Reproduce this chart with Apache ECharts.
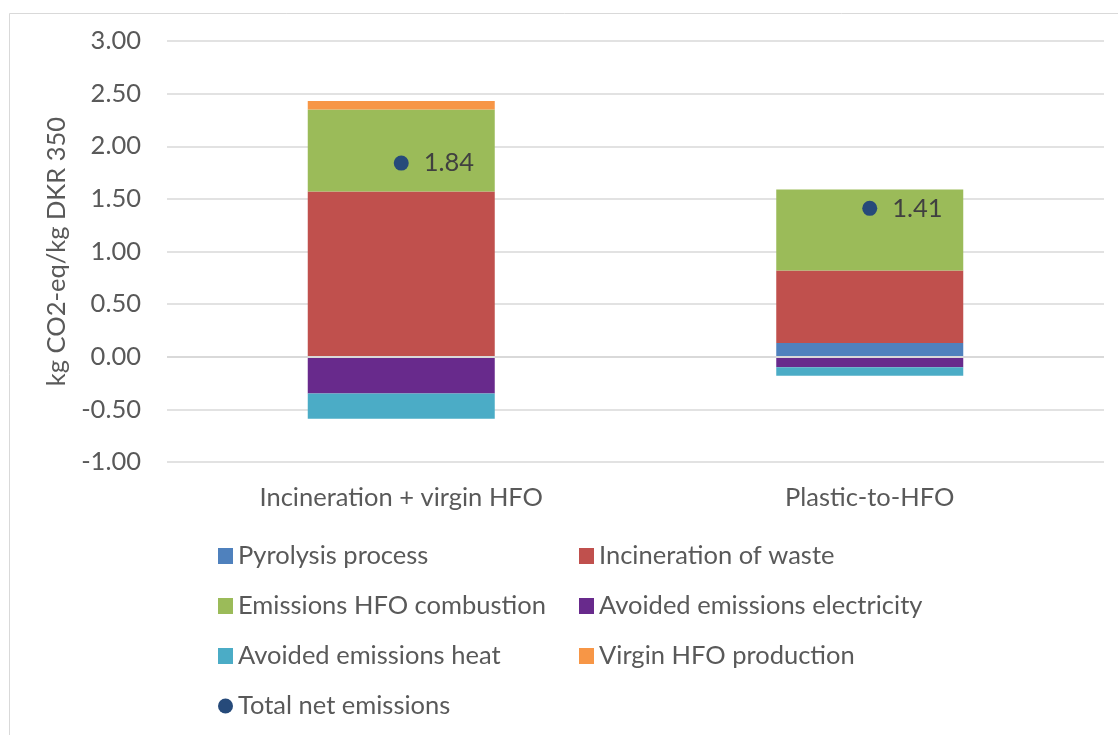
<!DOCTYPE html>
<html>
<head>
<meta charset="utf-8">
<script src="https://cdn.jsdelivr.net/npm/echarts@6/dist/echarts.min.js"></script>
<style>
  html, body { margin: 0; padding: 0; background: #ffffff; }
  #chart { width: 1118px; height: 735px; }
</style>
</head>
<body>
<div id="chart"></div>
<script>
// Scenarios compared
const categories = ['Incineration + virgin HFO', 'Plastic-to-HFO'];

// Contributions per scenario (kg CO2-eq/kg DKR 350)
const pyrolysisProcess = [0, 0.13];
const incinerationOfWaste = [1.57, 0.69];
const emissionsHfoCombustion = [0.78, 0.77];
const avoidedElectricity = [-0.35, -0.10];
const avoidedHeat = [-0.24, -0.08];
const virginHfoProduction = [0.08, 0];
const totalNetEmissions = [1.84, 1.41];

// Value axis ticks
const yMin = -1;
const yMax = 3;
const yStep = 0.5;

const FONT = 'Lato';
const FONT_SIZE = 25.5;
const TEXT_GREY = '#595959';

function barSeries(name, data, color) {
  return {
    name: name,
    type: 'bar',
    stack: 'total',
    data: data,
    barWidth: 187,
    itemStyle: { color: color },
    emphasis: { disabled: true }
  };
}

const series = [
  barSeries('Pyrolysis process', pyrolysisProcess, '#4f81bd'),
  barSeries('Incineration of waste', incinerationOfWaste, '#c0504d'),
  barSeries('Emissions HFO combustion', emissionsHfoCombustion, '#9bbb59'),
  barSeries('Avoided emissions electricity', avoidedElectricity, '#682a8c'),
  barSeries('Avoided emissions heat', avoidedHeat, '#4bacc6'),
  barSeries('Virgin HFO production', virginHfoProduction, '#f79646'),
  {
    name: 'Total net emissions',
    type: 'scatter',
    data: totalNetEmissions,
    symbol: 'circle',
    symbolSize: 15,
    z: 5,
    itemStyle: { color: '#264a7a', opacity: 1 },
    label: {
      show: true,
      position: 'right',
      distance: 15,
      formatter: p => p.value.toFixed(2),
      fontFamily: FONT,
      fontSize: FONT_SIZE,
      color: '#404040'
    },
    // zero baseline drawn over the bars
    markLine: {
      silent: true,
      symbol: 'none',
      label: { show: false },
      lineStyle: { color: '#d9d9d9', width: 2, type: 'solid' },
      data: [{ yAxis: 0 }]
    },
    emphasis: { disabled: true }
  }
];

const legendText = { fontFamily: FONT, fontSize: FONT_SIZE, color: TEXT_GREY, lineHeight: 26 };
const legendCommon = {
  orient: 'vertical',
  top: 543,
  padding: 0,
  itemWidth: 15,
  itemHeight: 16,
  itemGap: 24,
  itemTextGap: 9,
  selectedMode: false,
  textStyle: legendText
};

const chart = echarts.init(document.getElementById('chart'));
chart.setOption({
  animation: false,
  backgroundColor: '#ffffff',
  graphic: [{
    type: 'rect',
    left: 7,
    top: 11,
    shape: { width: 1140, height: 760 },
    style: { fill: 'none', stroke: '#d9d9d9', lineWidth: 1 },
    silent: true,
    z: -10
  }],
  grid: { left: 167, right: 14, top: 41, bottom: 273, containLabel: false },
  legend: [
    Object.assign({}, legendCommon, {
      left: 218,
      data: [
        { name: 'Pyrolysis process', icon: 'rect' },
        { name: 'Emissions HFO combustion', icon: 'rect' },
        { name: 'Avoided emissions heat', icon: 'rect' },
        { name: 'Total net emissions', icon: 'circle' }
      ]
    }),
    Object.assign({}, legendCommon, {
      left: 579,
      data: [
        { name: 'Incineration of waste', icon: 'rect' },
        { name: 'Avoided emissions electricity', icon: 'rect' },
        { name: 'Virgin HFO production', icon: 'rect' }
      ]
    })
  ],
  xAxis: {
    type: 'category',
    data: categories,
    axisLine: { show: false, onZero: false },
    axisTick: { show: false },
    axisLabel: {
      margin: 23,
      fontFamily: FONT,
      fontSize: FONT_SIZE,
      color: TEXT_GREY
    },
    splitLine: { show: false }
  },
  yAxis: {
    type: 'value',
    min: yMin,
    max: yMax,
    interval: yStep,
    name: 'kg CO2-eq/kg DKR 350',
    nameLocation: 'middle',
    nameGap: 94,
    nameTextStyle: { fontFamily: FONT, fontSize: FONT_SIZE, color: TEXT_GREY },
    axisLine: { show: false },
    axisTick: { show: false },
    axisLabel: {
      margin: 26,
      fontFamily: FONT,
      fontSize: FONT_SIZE,
      color: TEXT_GREY,
      formatter: v => v.toFixed(2)
    },
    splitLine: { lineStyle: { color: '#d9d9d9', width: 1.5 } }
  },
  series: series
});
</script>
</body>
</html>
